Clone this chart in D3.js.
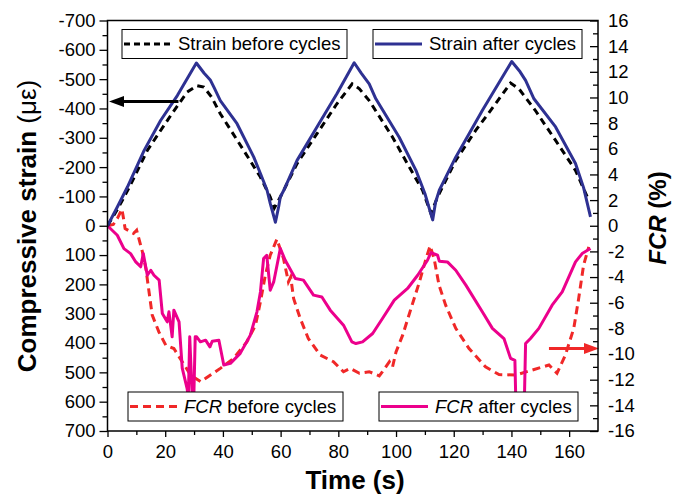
<!DOCTYPE html>
<html><head><meta charset="utf-8">
<script src="https://cdn.jsdelivr.net/npm/d3@7"></script>
<style>body{margin:0;background:#fff}svg{display:block;font-family:"Liberation Sans",Arial,sans-serif}</style>
</head><body><svg id="c" width="683" height="495"></svg>
<script>
// ---- data ----
const strainBeforeT = [0,3.4,7.5,13.8,21.9,27.6,31.0,33.4,36,39.1,47.2,53.0,56.4,57.8,59.9,65.7,72.6,79.5,84.8,87.3,90.7,98.8,104.6,109.2,112.1,114.4,120.7,127.6,134.5,139.7,142.6,148.3,155.3,162.2,166.8];
const strainBeforeV = [0,-55,-130,-257,-376,-456,-478,-473,-440,-382,-257,-166,-98,-60,-98,-212,-314,-416,-484,-467,-427,-302,-200,-121,-42,-98,-223,-325,-416,-487,-467,-393,-291,-189,-87];
const strainAfterT = [0,3.4,6.9,12.7,18.4,24.2,30.8,33.5,35.7,37,39.1,44.9,50.7,53,55.3,56.4,58.2,59.3,59.9,61.1,65.7,72.6,79.5,85.5,88,90.7,93.0,101.1,106.9,110,112.7,113.7,115.0,120.7,129.9,140.1,143,144.9,147.8,155.3,162.2,165,167.4];
const strainAfterV = [0,-64,-132,-257,-359,-444,-555,-520,-496,-470,-427,-348,-234,-178,-121,-76,-12,-64,-98,-121,-223,-337,-450,-556,-520,-484,-433,-302,-189,-110,-20,-80,-121,-234,-393,-560,-525,-496,-433,-337,-212,-130,-30];
const fcrBeforeT = [0,2,3.5,5.0,5.6,6.1,9.0,10.1,12.1,13.3,14.4,15.5,17.8,20.2,23.0,25.9,28.8,32.3,35.7,39.1,43.7,48.3,51.3,53.0,54.7,56.4,58.7,61.0,62.7,63.5,64.5,66.8,69.6,73.7,78.3,81.8,84.1,87.3,90.7,94.2,95.3,97.7,98.8,100.0,102.3,105.2,108.1,110.4,111.8,113.2,114.9,117.2,120.7,125.3,131.0,135.7,141.4,147.2,153.0,155.8,158.7,161.6,163.3,165.0,166.8];
const fcrBeforeV = [0,0.1,0.6,1.3,0.5,-0.22,-0.6,-0.35,-2.04,-3.34,-5.16,-6.97,-8.27,-9.31,-9.57,-10.6,-11.64,-12.16,-11.64,-11.12,-10.34,-9.05,-7.75,-5.93,-3.86,-2.3,-1.05,-2.56,-4.38,-4.0,-5.67,-7.23,-8.79,-10.08,-10.6,-11.38,-11.12,-11.5,-11.38,-11.7,-11.38,-10.6,-11.0,-9.83,-8.53,-6.45,-4.38,-2.56,-1.57,-2.56,-4.63,-6.19,-8.0,-9.57,-11.0,-11.6,-11.64,-11.25,-10.86,-11.5,-10.08,-8.0,-5.67,-3.08,-1.65];
const fcrAfterT = [0,3.4,5.7,8.0,9.8,11.5,12.4,13.8,15.0,16.1,17.9,19.0,20.7,21.3,22.4,23.0,24.8,25.9,27.6,28.0,28.5,29.3,29.8,30.4,30.9,32.2,34.0,35.5,36.3,38.6,40.3,42.6,46.0,49.5,51.8,53.0,54.1,55.2,56.4,57.6,59.9,61.6,65.1,67.9,71.4,74.3,77.2,81.8,84.7,86.1,88.4,91.9,95.3,99.4,104.0,107.5,110.9,112.1,114.4,115.0,117.8,120.7,124.2,129.9,133.4,137.4,139.7,141.2,141.6,144.4,144.9,146.6,149.5,154.1,157.6,162.2,164.5,167.4];
const fcrAfterV = [0,-0.74,-1.78,-2.17,-2.82,-3.2,-2.17,-3.86,-3.47,-3.86,-4.24,-6.84,-7.49,-6.71,-8.66,-6.58,-7.49,-11.1,-12.7,-13.5,-8.66,-13.0,-14.5,-8.66,-8.66,-9.05,-8.92,-9.44,-9.0,-8.92,-10.86,-10.73,-9.95,-8.53,-6.71,-5.16,-2.56,-2.3,-5.02,-4.38,-1.78,-2.69,-4.11,-4.24,-5.41,-5.55,-6.58,-7.75,-9.05,-9.18,-9.05,-8.4,-7.23,-5.8,-4.89,-3.86,-2.69,-2.09,-2.3,-2.76,-2.82,-3.47,-4.63,-6.71,-8.0,-8.79,-10.34,-10.5,-14.5,-14.5,-9.18,-8.79,-8.0,-6.19,-5.16,-2.82,-2.17,-1.78];
const xTicks = [0,20,40,60,80,100,120,140,160];
const leftTicks = [-700,-600,-500,-400,-300,-200,-100,0,100,200,300,400,500,600,700];
const rightTicks = [16,14,12,10,8,6,4,2,0,-2,-4,-6,-8,-10,-12,-14,-16];
const legendLabels = ["Strain before cycles","Strain after cycles"," before cycles"," after cycles"];
// arrows: [t0, t1, value, axis]
const arrowStrain = [24.6, 0, -424];
const arrowFcr = [153, 170, -9.56];

// ---- layout ----
const svg = d3.select("#c");
const L = 107.5, R = 598, T = 20.5, B = 431;
const x = d3.scaleLinear().domain([0,170]).range([L,R]);
const yL = d3.scaleLinear().domain([-700,700]).range([T,B]);
const yR = d3.scaleLinear().domain([16,-16]).range([T,B]);
const cBlue = "#2E3192", cMag = "#EC008C", cRed = "#F02828";
const fs = 18.5;

svg.append("defs").append("clipPath").attr("id","clip").append("rect")
  .attr("x",L).attr("y",T).attr("width",R-L).attr("height",B-T);

const g = svg.append("g").attr("clip-path","url(#clip)");
function pts(ts, vs){ return ts.map((t,i)=>[t,vs[i]]); }
const lineL = d3.line().x(d=>x(d[0])).y(d=>yL(d[1]));
const lineR = d3.line().x(d=>x(d[0])).y(d=>yR(d[1]));

g.append("path").attr("d",lineR(pts(fcrBeforeT,fcrBeforeV))).attr("fill","none")
  .attr("stroke",cRed).attr("stroke-width",3).attr("stroke-dasharray","8,5");
g.append("path").attr("d",lineR(pts(fcrAfterT,fcrAfterV))).attr("fill","none")
  .attr("stroke",cMag).attr("stroke-width",3).attr("stroke-linejoin","round");
g.append("path").attr("d",lineL(pts(strainBeforeT,strainBeforeV))).attr("fill","none")
  .attr("stroke","#000").attr("stroke-width",3).attr("stroke-dasharray","7,5");
g.append("path").attr("d",lineL(pts(strainAfterT,strainAfterV))).attr("fill","none")
  .attr("stroke",cBlue).attr("stroke-width",3).attr("stroke-linejoin","round");

// arrows
function arrow(x0,x1,y,color){
  const dir = Math.sign(x1-x0), hl = 15, hw = 5.5;
  svg.append("line").attr("x1",x0).attr("x2",x1-dir*hl+dir).attr("y1",y).attr("y2",y)
    .attr("stroke",color).attr("stroke-width",3);
  svg.append("path").attr("d",`M${x1},${y}L${x1-dir*hl},${y-hw}L${x1-dir*hl},${y+hw}Z`).attr("fill",color);
}
arrow(x(arrowStrain[0]), x(arrowStrain[1])+1.5, yL(arrowStrain[2]), "#000");
arrow(x(arrowFcr[0]), x(arrowFcr[1])+1, yR(arrowFcr[2]), cRed);

// axes
const fmt = d=>String(d);
const ax = svg.append("g").attr("transform",`translate(0,${B})`)
  .call(d3.axisBottom(x).tickValues(xTicks).tickFormat(fmt).tickSize(6).tickPadding(8));
svg.append("g").attr("transform",`translate(0,${B})`)
  .call(d3.axisBottom(x).tickValues(d3.range(10,170,20)).tickFormat("").tickSize(4));
const ayl = svg.append("g").attr("transform",`translate(${L},0)`)
  .call(d3.axisLeft(yL).tickValues(leftTicks).tickFormat(fmt).tickSize(8).tickPadding(4));
svg.append("g").attr("transform",`translate(${L},0)`)
  .call(d3.axisLeft(yL).tickValues(d3.range(-650,700,100)).tickFormat("").tickSize(5));
const ayr = svg.append("g").attr("transform",`translate(${R},0)`)
  .call(d3.axisRight(yR).tickValues(rightTicks).tickFormat(fmt).tickSize(-8).tickPadding(10));
svg.append("g").attr("transform",`translate(${R},0)`)
  .call(d3.axisRight(yR).tickValues(d3.range(-15,16,2)).tickFormat("").tickSize(-5));
svg.selectAll(".domain").remove();
svg.selectAll(".tick line").attr("stroke","#000").attr("stroke-width",1.3);
svg.selectAll(".tick text").attr("font-size",fs).attr("font-family",'"Liberation Sans",Arial,sans-serif').attr("fill","#000");

// frame
svg.append("rect").attr("x",L).attr("y",T).attr("width",R-L).attr("height",B-T)
  .attr("fill","none").attr("stroke","#000").attr("stroke-width",1.5);

// titles
svg.append("text").attr("x",355).attr("y",489).attr("text-anchor","middle")
  .attr("font-size",26).attr("font-weight","bold").text("Time (s)");
const lt = svg.append("text").attr("transform","translate(36,226) rotate(-90)").attr("text-anchor","middle")
  .attr("font-size",26);
lt.append("tspan").attr("font-weight","bold").text("Compressive strain ");
lt.append("tspan").attr("font-weight","normal").text("(\u03bc\u03b5)");
const rt = svg.append("text").attr("transform","translate(666,218) rotate(-90)").attr("text-anchor","middle")
  .attr("font-size",24).attr("font-weight","bold");
rt.append("tspan").attr("font-style","italic").text("FCR");
rt.append("tspan").text(" (%)");

// legends
const legends = [
  {x:122,y:29.5,w:225,h:29,stroke:"#000",dash:"6,4",label:legendLabels[0],ital:false},
  {x:373,y:29.5,w:209,h:29,stroke:cBlue,dash:null,label:legendLabels[1],ital:false},
  {x:128,y:392,w:215,h:29,stroke:cRed,dash:"8,5",label:legendLabels[2],ital:true},
  {x:379,y:392,w:199,h:29,stroke:cMag,dash:null,label:legendLabels[3],ital:true}
];
legends.forEach(l=>{
  const lg = svg.append("g");
  lg.append("rect").attr("x",l.x).attr("y",l.y).attr("width",l.w).attr("height",l.h)
    .attr("fill","#fff").attr("stroke","#000").attr("stroke-width",1);
  lg.append("line").attr("x1",l.x+2).attr("x2",l.x+49).attr("y1",l.y+l.h/2).attr("y2",l.y+l.h/2)
    .attr("stroke",l.stroke).attr("stroke-width",3).attr("stroke-dasharray",l.dash);
  const t = lg.append("text").attr("x",l.x+56).attr("y",l.y+l.h/2).attr("dy","0.35em").attr("font-size",fs);
  if(l.ital){ t.append("tspan").attr("font-style","italic").text("FCR"); }
  t.append("tspan").text(l.label);
});
</script></body></html>
